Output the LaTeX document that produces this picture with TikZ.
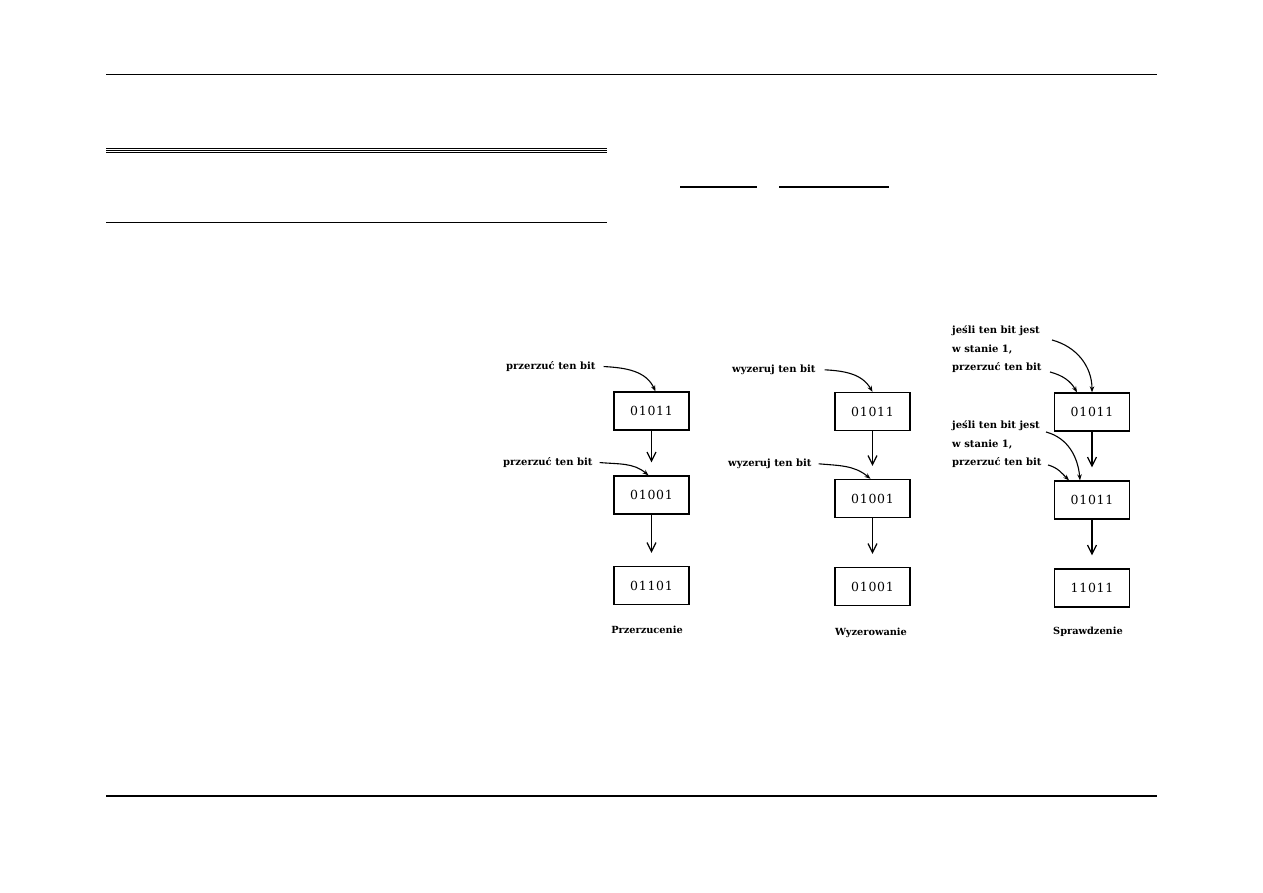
\documentclass[tikz,border=0pt]{standalone}
\usepackage{fontspec}
\setmainfont{DejaVu Serif}
\usetikzlibrary{arrows.meta}
\begin{document}
\begin{tikzpicture}[x=1pt,y=1pt,
  bitbox/.style={draw,line width=1.3pt,minimum width=75pt,minimum height=38pt,inner sep=0pt,
    font=\fontsize{12.5}{14}\selectfont\addfontfeature{LetterSpace=6}},
  lbl/.style={font=\bfseries\fontsize{10}{18.5}\selectfont,inner sep=0pt},
  captxt/.style={font=\bfseries\fontsize{9.8}{11}\selectfont,inner sep=0pt},
  flow/.style={line width=1.2pt,-{Straight Barb[length=9pt,width=9pt,line width=1.2pt]}},
  hint/.style={line width=1.1pt,-{Stealth[length=6pt,width=4.5pt]}},
  rule/.style={line width=1.4pt},
  thinrule/.style={line width=0.9pt},
]
\useasboundingbox (0,0) rectangle (1263,-893);
% page rules
\draw[rule] (106,-74.3) -- (1157,-74.3);
\draw[rule] (106,-796) -- (1157,-796);
\draw[thinrule] (106,-148.5) -- (607,-148.5);
\draw[thinrule] (106,-150.4) -- (607,-150.4);
\draw[thinrule] (106,-152.3) -- (607,-152.3);
\draw[thinrule] (106,-222.3) -- (607,-222.3);
\draw[line width=1.8pt] (680,-186.7) -- (757,-186.7);
\draw[line width=1.8pt] (779,-186.7) -- (889,-186.7);

% column 1
\node[bitbox] (a1) at (651.5,-411) {01011};
\node[bitbox] (a2) at (651.5,-495) {01001};
\node[bitbox] (a3) at (651.5,-585.5) {01101};
\node[captxt] (ac) at (647,-630) {Przerzucenie};
\node[lbl,anchor=base west] (al1) at (506,-369.5) {przerzuć ten bit};
\node[lbl,anchor=base west] (al2) at (503,-465.5) {przerzuć ten bit};
\draw[flow] (a1.south) -- ([yshift=13pt]a2.north);
\draw[flow] (a2.south) -- ([yshift=13pt]a3.north);
\draw[hint] ([xshift=8pt]al1.east) to[out=-3,in=115] ([xshift=4pt]a1.north);
\draw[hint] ([xshift=7pt]al2.east) to[out=-5,in=140] ([xshift=-3pt]a2.north);

% column 2
\node[bitbox] (b1) at (872.5,-411.5) {01011};
\node[bitbox] (b2) at (872.5,-498.5) {01001};
\node[bitbox] (b3) at (872.5,-586.5) {01001};
\node[captxt] (bc) at (871,-633) {Wyzerowanie};
\node[lbl,anchor=base west] (bl1) at (732,-372.5) {wyzeruj ten bit};
\node[lbl,anchor=base west] (bl2) at (728,-466.5) {wyzeruj ten bit};
\draw[flow] (b1.south) -- ([yshift=13pt]b2.north);
\draw[flow] (b2.south) -- ([yshift=13pt]b3.north);
\draw[hint] ([xshift=9pt]bl1.east) to[out=-3,in=120] ([xshift=0pt]b1.north);
\draw[hint] ([xshift=7pt]bl2.east) to[out=-5,in=140] ([xshift=-2pt]b2.north);

% column 3
\node[bitbox] (c1) at (1092,-412) {01011};
\node[bitbox] (c2) at (1092,-500) {01011};
\node[bitbox] (c3) at (1092,-588) {11011};
\node[captxt] (cc) at (1088,-632) {Sprawdzenie};
\node[lbl,anchor=north west,align=left] (cl1) at (952,-326) {jeśli ten bit jest\\w stanie 1,\\przerzuć ten bit};
\node[lbl,anchor=north west,align=left] (cl2) at (952,-421) {jeśli ten bit jest\\w stanie 1,\\przerzuć ten bit};
\coordinate (cs1) at (1052,-340);
\coordinate (cs2) at (1050,-372);
\coordinate (cs3) at (1046,-432);
\coordinate (cs4) at (1048,-465);
\draw[flow] (c1.south) -- ([yshift=13pt]c2.north);
\draw[flow] (c2.south) -- ([yshift=13pt]c3.north);
\draw[hint] (cs1) to[out=-15,in=90] (c1.north);
\draw[hint] (cs2) to[out=-15,in=120] ([xshift=-15pt]c1.north);
\draw[hint] (cs3) to[out=-15,in=95] ([xshift=-12pt]c2.north);
\draw[hint] (cs4) to[out=-15,in=135] ([xshift=-23pt]c2.north);
\end{tikzpicture}
\end{document}
